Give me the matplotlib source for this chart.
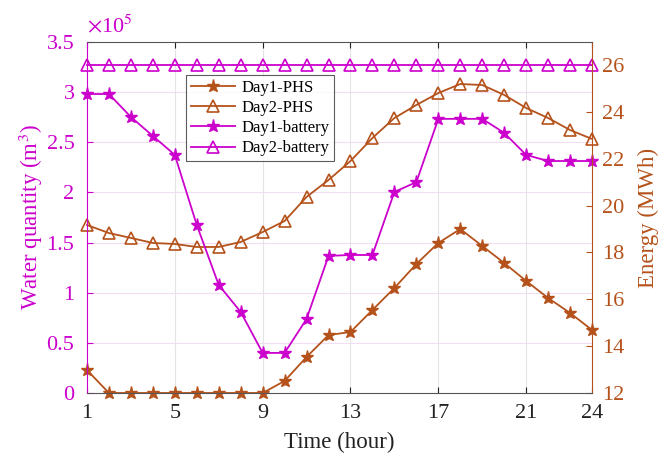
import numpy as np
import matplotlib.pyplot as plt

plt.rcParams['font.family'] = ['Liberation Serif', 'DejaVu Serif']
plt.rcParams['mathtext.fontset'] = 'stix'

# hours of the day
hours = np.arange(1, 25)

# water quantity of the PHS reservoir (m^3)
day1_phs = [0.229e5, 0, 0, 0, 0, 0, 0, 0, 0, 0.12e5, 0.359e5, 0.578e5,
            0.608e5, 0.828e5, 1.047e5, 1.286e5, 1.496e5, 1.635e5, 1.466e5, 1.296e5,
            1.117e5, 0.947e5, 0.798e5, 0.628e5]
day2_phs = [1.675e5, 1.595e5, 1.546e5, 1.496e5, 1.486e5, 1.456e5, 1.456e5, 1.506e5,
            1.605e5, 1.715e5, 1.955e5, 2.124e5, 2.313e5, 2.543e5, 2.742e5, 2.872e5,
            2.991e5, 3.081e5, 3.071e5, 2.972e5, 2.842e5, 2.742e5, 2.622e5, 2.533e5]

# battery energy (MWh)
day1_bat = [24.76, 24.76, 23.78, 22.97, 22.16, 19.17, 16.61, 15.46, 13.71, 13.71,
            15.16, 17.85, 17.89, 17.89, 20.58, 21.0, 23.7, 23.7, 23.7, 23.1,
            22.16, 21.9, 21.9, 21.9]
day2_bat = [26.0] * 24

xticks = [1, 5, 9, 13, 17, 21, 24]
left_ticks = [0, 0.5, 1, 1.5, 2, 2.5, 3, 3.5]
left_labels = ['0', '0.5', '1', '1.5', '2', '2.5', '3', '3.5']
right_ticks = [12, 14, 16, 18, 20, 22, 24, 26]

brown = '#B5521B'
magenta = '#CC00CC'

fig = plt.figure(figsize=(6.67, 4.55), dpi=100)
ax = fig.add_axes([0.1304, 0.1363, 0.7572, 0.7714])
ax2 = ax.twinx()

# PHS on the left axis (plotted in units of 1e5 m^3)
l1, = ax.plot(hours, np.array(day1_phs) / 1e5, '-', color=brown, lw=1.3,
              marker='*', ms=9.5, mfc=brown, mec=brown, label='Day1-PHS', clip_on=False)
l2, = ax.plot(hours, np.array(day2_phs) / 1e5, '-', color=brown, lw=1.3,
              marker='^', ms=8, mfc='none', mec=brown, mew=1.2, label='Day2-PHS', clip_on=False)

# battery on the right axis
l3, = ax2.plot(hours, day1_bat, '-', color=magenta, lw=1.3,
               marker='*', ms=9.5, mfc=magenta, mec=magenta, label='Day1-battery', clip_on=False)
l4, = ax2.plot(hours, day2_bat, '-', color=magenta, lw=1.3,
               marker='^', ms=8, mfc='none', mec=magenta, mew=1.2, label='Day2-battery', clip_on=False)

ax.set_xlim(1, 24)
ax.set_ylim(0, 3.5)
ax2.set_ylim(12, 26.98)

ax.set_xticks(xticks)
ax.set_yticks(left_ticks)
ax.set_yticklabels(left_labels)
ax2.set_yticks(right_ticks)

# grid: light magenta horizontal, light gray vertical
for t in left_ticks[1:-1]:
    ax.axhline(t, color='#F2DDF2', lw=0.8, zorder=0)
for t in xticks[1:-1]:
    ax.axvline(t, color='#E4E4E4', lw=0.8, zorder=0)

ax.tick_params(axis='x', direction='in', top=True, labelsize=16, colors='#222222', length=4, pad=8)
ax.tick_params(axis='y', direction='in', labelsize=16, colors=magenta, length=4, pad=9)
ax2.tick_params(axis='y', direction='in', labelsize=16, colors=brown, length=4, pad=7)

ax2.spines['left'].set_color(magenta)
ax2.spines['right'].set_color(brown)
ax2.spines['top'].set_color('#555555')
ax2.spines['bottom'].set_color('#555555')
for s in ax.spines.values():
    s.set_visible(False)

ax.set_xlabel('Time (hour)', fontsize=16.5, color='#222222', labelpad=6)
ax.set_ylabel('Water quantity (m$^3$)', fontsize=16.5, color=magenta, labelpad=1)
ax2.set_ylabel('Energy (MWh)', fontsize=16.5, color=brown, labelpad=10)

ax.text(0.0, 1.012, r'$\times$10$^5$', transform=ax.transAxes, fontsize=16,
        color=magenta, ha='left', va='bottom')

leg = ax2.legend(handles=[l1, l2, l3, l4], loc='upper left', bbox_to_anchor=(0.18, 0.93),
                 fontsize=12, frameon=True, fancybox=False, edgecolor='#333333',
                 handlelength=2.6, borderpad=0.3, labelspacing=0.25, handletextpad=0.4)
leg.get_frame().set_linewidth(0.8)

fig.savefig('out.png', dpi=100)
